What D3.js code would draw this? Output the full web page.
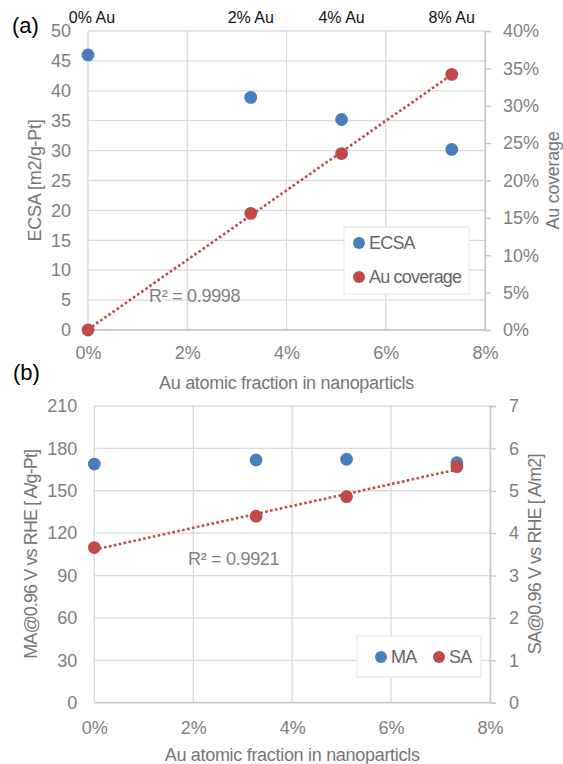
<!DOCTYPE html>
<html>
<head>
<meta charset="utf-8">
<script src="https://cdn.jsdelivr.net/npm/d3@7"></script>
<style>
  body { margin: 0; background: #fff; }
  text { font-family: "Liberation Sans", Arial, sans-serif; }
</style>
</head>
<body>
<script>
// Data (x values in % Au atomic fraction)
var auFractionA = [0, 3.28, 5.11, 7.33];
var ecsa = [46.0, 38.9, 35.2, 30.2];
var auCoverage = [0, 15.6, 23.6, 34.2];      // %
var auLabels = ["0% Au", "2% Au", "4% Au", "8% Au"];

var auFractionB = [0, 3.27, 5.10, 7.33];
var massActivity = [168.9, 171.8, 172.3, 169.9];
var specificActivity = [3.66, 4.40, 4.86, 5.57];

var xTicks = [0, 2, 4, 6, 8];
var ecsaTicks = [0, 5, 10, 15, 20, 25, 30, 35, 40, 45, 50];
var coverageTicks = [0, 5, 10, 15, 20, 25, 30, 35, 40];
var maTicks = [0, 30, 60, 90, 120, 150, 180, 210];
var saTicks = [0, 1, 2, 3, 4, 5, 6, 7];

var blue = "#4a7ebb", red = "#be4b48";
var tickGray = "#808080", titleGray = "#767676";
var fs = "18px";

var svg = d3.select("body")
    .append("svg")
        .attr("width", 563)
        .attr("height", 764);

// least squares fit, used for the dotted trendlines
function fit(xs, ys) {
    var mx = d3.mean(xs), my = d3.mean(ys), sxy = 0, sxx = 0;
    xs.forEach(function(x, i) { sxy += (x - mx) * (ys[i] - my); sxx += (x - mx) * (x - mx); });
    var b = sxy / sxx;
    return {slope: b, icpt: my - b * mx};
}

function styleTicks(sel) {
    sel.selectAll("text").style("font-size", fs).style("fill", tickGray)
        .style("font-family", "Liberation Sans, Arial, sans-serif");
}

function panel(o) {
    var x = d3.scaleLinear().domain([0, 8]).range([o.left, o.right]);
    var yL = d3.scaleLinear().domain([0, d3.max(o.leftTicks)]).range([o.bottom, o.top]);
    var yR = d3.scaleLinear().domain([0, d3.max(o.rightTicks)]).range([o.bottom, o.top]);
    var g = svg.append("g");

    // gridlines
    g.selectAll(".hg").data(o.leftTicks).enter().append("line")
        .attr("x1", o.left).attr("x2", o.right)
        .attr("y1", function(d) { return yL(d); }).attr("y2", function(d) { return yL(d); })
        .style("stroke", "#d9d9d9").style("stroke-width", 1.3);
    g.selectAll(".vg").data(xTicks).enter().append("line")
        .attr("x1", function(d) { return x(d); }).attr("x2", function(d) { return x(d); })
        .attr("y1", o.top).attr("y2", o.bottom)
        .style("stroke", "#d9d9d9").style("stroke-width", 1.3);

    // bottom + right axis lines
    g.append("line").attr("x1", o.left).attr("x2", o.right).attr("y1", o.bottom).attr("y2", o.bottom)
        .style("stroke", "#c6c6c6").style("stroke-width", 1.3);

    var rAxis = d3.axisRight(yR).tickValues(o.rightTicks).tickSize(6).tickPadding(o.rPad)
        .tickFormat(o.rightFmt);
    var ra = g.append("g").attr("transform", "translate(" + o.right + ",0)").call(rAxis);
    ra.select(".domain").style("stroke", "#c6c6c6").style("stroke-width", 1.3);
    ra.selectAll(".tick line").style("stroke", "#c6c6c6").style("stroke-width", 1.3);
    styleTicks(ra);

    var lAxis = d3.axisLeft(yL).tickValues(o.leftTicks).tickSize(0).tickPadding(o.lPad);
    var la = g.append("g").attr("transform", "translate(" + o.left + ",0)").call(lAxis);
    la.select(".domain").remove();
    styleTicks(la);

    var bAxis = d3.axisBottom(x).tickValues(xTicks).tickSize(0).tickPadding(o.bPad)
        .tickFormat(function(d) { return d + "%"; });
    var ba = g.append("g").attr("transform", "translate(0," + o.bottom + ")").call(bAxis);
    ba.select(".domain").remove();
    styleTicks(ba);

    // axis titles
    g.append("text")
        .attr("x", (o.left + o.right) / 2).attr("y", o.xTitleY)
        .style("text-anchor", "middle").style("font-size", fs).style("fill", titleGray)
        .style("letter-spacing", "-0.3px")
        .text("Au atomic fraction in nanoparticls");
    g.append("text")
        .attr("transform", "translate(" + o.lTitleX + "," + (o.top + o.bottom) / 2 + ") rotate(-90)")
        .attr("dy", "0.35em")
        .style("text-anchor", "middle").style("font-size", fs).style("fill", titleGray)
        .style("letter-spacing", o.yTitleSpacing)
        .text(o.leftTitle);
    g.append("text")
        .attr("transform", "translate(" + o.rTitleX + "," + (o.top + o.bottom) / 2 + ") rotate(-90)")
        .attr("dy", "0.35em")
        .style("text-anchor", "middle").style("font-size", fs).style("fill", titleGray)
        .style("letter-spacing", o.yTitleSpacing)
        .text(o.rightTitle);

    // trendline of the right-axis series
    var f = fit(o.xs, o.rightVals);
    var x0 = d3.min(o.xs), x1 = d3.max(o.xs);
    g.append("line")
        .attr("x1", x(x0)).attr("y1", yR(f.icpt + f.slope * x0))
        .attr("x2", x(x1)).attr("y2", yR(f.icpt + f.slope * x1))
        .style("stroke", red).style("stroke-width", 2.6)
        .style("stroke-dasharray", "2.6,2.4");

    g.append("text")
        .attr("x", o.r2X).attr("y", o.r2Y).attr("dy", "0.35em")
        .style("font-size", fs).style("fill", tickGray).style("letter-spacing", "-0.3px")
        .text(o.r2);

    // markers
    g.selectAll(".ml").data(o.leftVals).enter().append("circle")
        .attr("cx", function(d, i) { return x(o.xs[i]); })
        .attr("cy", function(d) { return yL(d); })
        .attr("r", 6.4).style("fill", blue);
    g.selectAll(".mr").data(o.rightVals).enter().append("circle")
        .attr("cx", function(d, i) { return x(o.xs[i]); })
        .attr("cy", function(d) { return yR(d); })
        .attr("r", 6.4).style("fill", red);

    // legend
    var lg = g.append("g");
    lg.append("rect")
        .attr("x", o.leg.x).attr("y", o.leg.y).attr("width", o.leg.w).attr("height", o.leg.h)
        .style("fill", "#fff").style("stroke", "#ebebe2").style("stroke-width", 1.2);
    o.leg.items.forEach(function(it) {
        lg.append("circle").attr("cx", it.cx).attr("cy", it.cy).attr("r", 6)
            .style("fill", it.color);
        lg.append("text").attr("x", it.cx + 10).attr("y", it.cy).attr("dy", "0.35em")
            .style("font-size", fs).style("fill", "#666").style("letter-spacing", "-0.8px")
            .text(it.label);
    });

    return x;
}

// panel (a)
var xa = panel({
    left: 88, right: 485, top: 31, bottom: 330,
    xs: auFractionA, leftVals: ecsa, rightVals: auCoverage,
    leftTicks: ecsaTicks, rightTicks: coverageTicks,
    rightFmt: function(d) { return d + "%"; },
    lPad: 17, rPad: 12, bPad: 16,
    xTitleY: 389, lTitleX: 35, rTitleX: 553, yTitleSpacing: "-0.3px",
    leftTitle: "ECSA [m2/g-Pt]", rightTitle: "Au coverage",
    r2: "R\u00b2 = 0.9998", r2X: 149, r2Y: 296,
    leg: {x: 344, y: 227, w: 125, h: 67, items: [
        {cx: 359, cy: 243, color: blue, label: "ECSA"},
        {cx: 359, cy: 277, color: red, label: "Au coverage"}]}
});

// composition labels above panel (a)
svg.selectAll(".au").data(auLabels).enter().append("text")
    .attr("x", function(d, i) { return xa(auFractionA[i]) + (i === 0 ? 4 : 0); })
    .attr("y", 22.5)
    .style("text-anchor", "middle").style("font-size", "16px").style("fill", "#111")
    .text(function(d) { return d; });

// panel (b)
panel({
    left: 94.3, right: 490, top: 406, bottom: 702.7,
    xs: auFractionB, leftVals: massActivity, rightVals: specificActivity,
    leftTicks: maTicks, rightTicks: saTicks,
    rightFmt: function(d) { return d; },
    lPad: 17, rPad: 13, bPad: 19,
    xTitleY: 761, lTitleX: 31, rTitleX: 535, yTitleSpacing: "-0.9px",
    leftTitle: "MA@0.96 V vs RHE [ A/g-Pt]", rightTitle: "SA@0.96 V vs RHE [ A/m2]",
    r2: "R\u00b2 = 0.9921", r2X: 188, r2Y: 559,
    leg: {x: 357, y: 636, w: 124, h: 41, items: [
        {cx: 381, cy: 657, color: blue, label: "MA"},
        {cx: 439, cy: 657, color: red, label: "SA"}]}
});

// panel letters
svg.append("text").attr("x", 12).attr("y", 33)
    .style("font-size", "22px").style("fill", "#000").text("(a)");
svg.append("text").attr("x", 13).attr("y", 380)
    .style("font-size", "22px").style("fill", "#000").text("(b)");
</script>
</body>
</html>
